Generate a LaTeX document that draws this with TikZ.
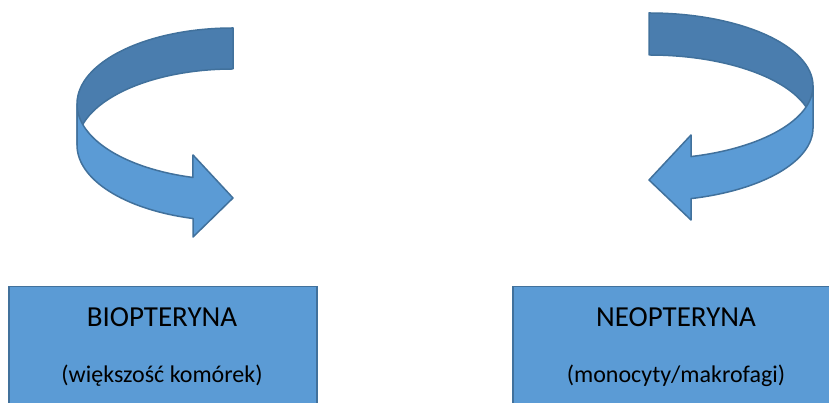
\documentclass[tikz,border=0pt]{standalone}
\usepackage{fontspec}
\setmainfont{Carlito}
\usepackage{tikz}

\definecolor{boxblue}{HTML}{5B9BD5}
\definecolor{backblue}{HTML}{4A7DAE}
\definecolor{edgeblue}{HTML}{41719C}

\tikzset{
  band/.style={draw=edgeblue, line width=1.5pt, line join=round},
  pterin/.style={draw=edgeblue, fill=boxblue, line width=1.5pt, minimum width=308pt, minimum height=140pt, anchor=north west},
  titletext/.style={font=\fontsize{29}{34}\selectfont},
  subtext/.style={font=\fontsize{24}{29}\selectfont}
}

\begin{document}
\begin{tikzpicture}[x=1pt,y=1pt]
\useasboundingbox (0,0) rectangle (829,403);

\filldraw[band, fill=backblue] (233,375) arc[start angle=90, end angle=180, x radius=156, y radius=76] -- ++(0,-41) arc[start angle=180, end angle=90, x radius=156, y radius=76] -- cycle;
\filldraw[band, fill=boxblue] (77,299) arc[start angle=180, end angle=255.14, x radius=156, y radius=76] -- ++(0,22.5) -- (233,205) -- (193,166) -- (193,184.5) arc[start angle=255.14, end angle=180, x radius=156, y radius=76] -- cycle;

\filldraw[band, fill=backblue] (649,390) arc[start angle=90, end angle=0, x radius=164, y radius=73] -- ++(0,-42) arc[start angle=0, end angle=90, x radius=164, y radius=73] -- cycle;
\filldraw[band, fill=boxblue] (813,317) arc[start angle=0, end angle=-75.16, x radius=164, y radius=73] -- (691,268) -- (649,223) -- (691,183) -- (691,204.4) arc[start angle=-75.16, end angle=0, x radius=164, y radius=73] -- cycle;

\node[pterin] (bio) at (8,117) {};
\node[titletext] (bioname) at (162,86) {BIOPTERYNA};
\node[subtext] (biocells) at (162,27) {(większość komórek)};

\node[pterin, minimum width=330pt] (neo) at (512,117) {};
\node[titletext] (neoname) at (676,86) {NEOPTERYNA};
\node[subtext] (neocells) at (676,27) {(monocyty/makrofagi)};
\end{tikzpicture}
\end{document}
